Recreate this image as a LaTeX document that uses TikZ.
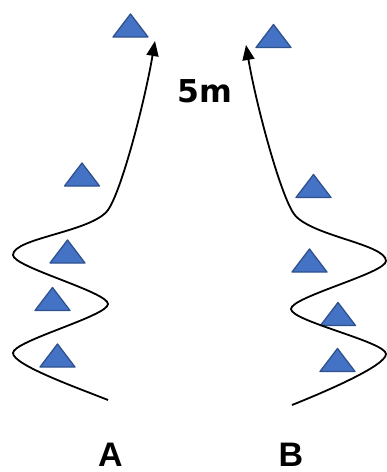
\documentclass[tikz,border=0pt]{standalone}
\usepackage{fontspec}
\setmainfont{Liberation Sans}
\newfontfamily\widefont{DejaVu Sans}
\usetikzlibrary{arrows.meta}
\definecolor{coneblue}{HTML}{4472C4}
\definecolor{coneedge}{HTML}{2F528F}

\tikzset{
  cone/.style={fill=coneblue, draw=coneedge, line width=1.3pt, line join=round},
  route/.style={black, line width=1.8pt, ->},
  lane/.style={font=\fontsize{34}{34}\selectfont\bfseries, anchor=base, inner sep=0pt}
}

\begin{document}
\begin{tikzpicture}[x=1pt, y=-1pt, >={Triangle[length=15pt, width=12pt]}]

% Canvas
\useasboundingbox (0,0) rectangle (387,472);

% --- Cones ---
\foreach \cx/\cy in {130.5/25.5, 82/174.5, 67.5/251.5, 52.5/299, 57.5/355.5,
                     273.5/36, 313.5/186, 309.5/260.5, 338/314, 337.5/360}
  \path[cone] (\cx-17.5,\cy+11.5) -- (\cx+17.5,\cy+11.5) -- (\cx,\cy-11.5) -- cycle;

% --- Route A (weave, then run) ---
\coordinate (Astart) at (108,400);
\coordinate (Atip) at (155,41);
\draw[route] (Astart) .. controls (78,388) and (13,365) .. (13,353)
  .. controls (13,341) and (108,316) .. (108,304)
  .. controls (108,292) and (13,267) .. (13,255)
  .. controls (13,238) and (92,232) .. (108,210)
  .. controls (122,190) and (145,100) .. (Atip);

% --- Route B (weave, then run) ---
\coordinate (Bstart) at (292,405);
\coordinate (Btip) at (246,45);
\draw[route] (Bstart) .. controls (322,393) and (386,366) .. (386,354)
  .. controls (386,342) and (291,321) .. (291,309)
  .. controls (291,297) and (386,273) .. (386,261)
  .. controls (386,244) and (310,236) .. (294,214)
  .. controls (280,194) and (256,104) .. (Btip);

% Distance
\node[anchor=base, font=\widefont\fontsize{31.5}{31.5}\selectfont\bfseries] (dist) at (205,102) {5m};

% Labels
\node[lane] (labA) at (110.5,466) {A};
\node[lane] (labB) at (291,466) {B};

\end{tikzpicture}
\end{document}
